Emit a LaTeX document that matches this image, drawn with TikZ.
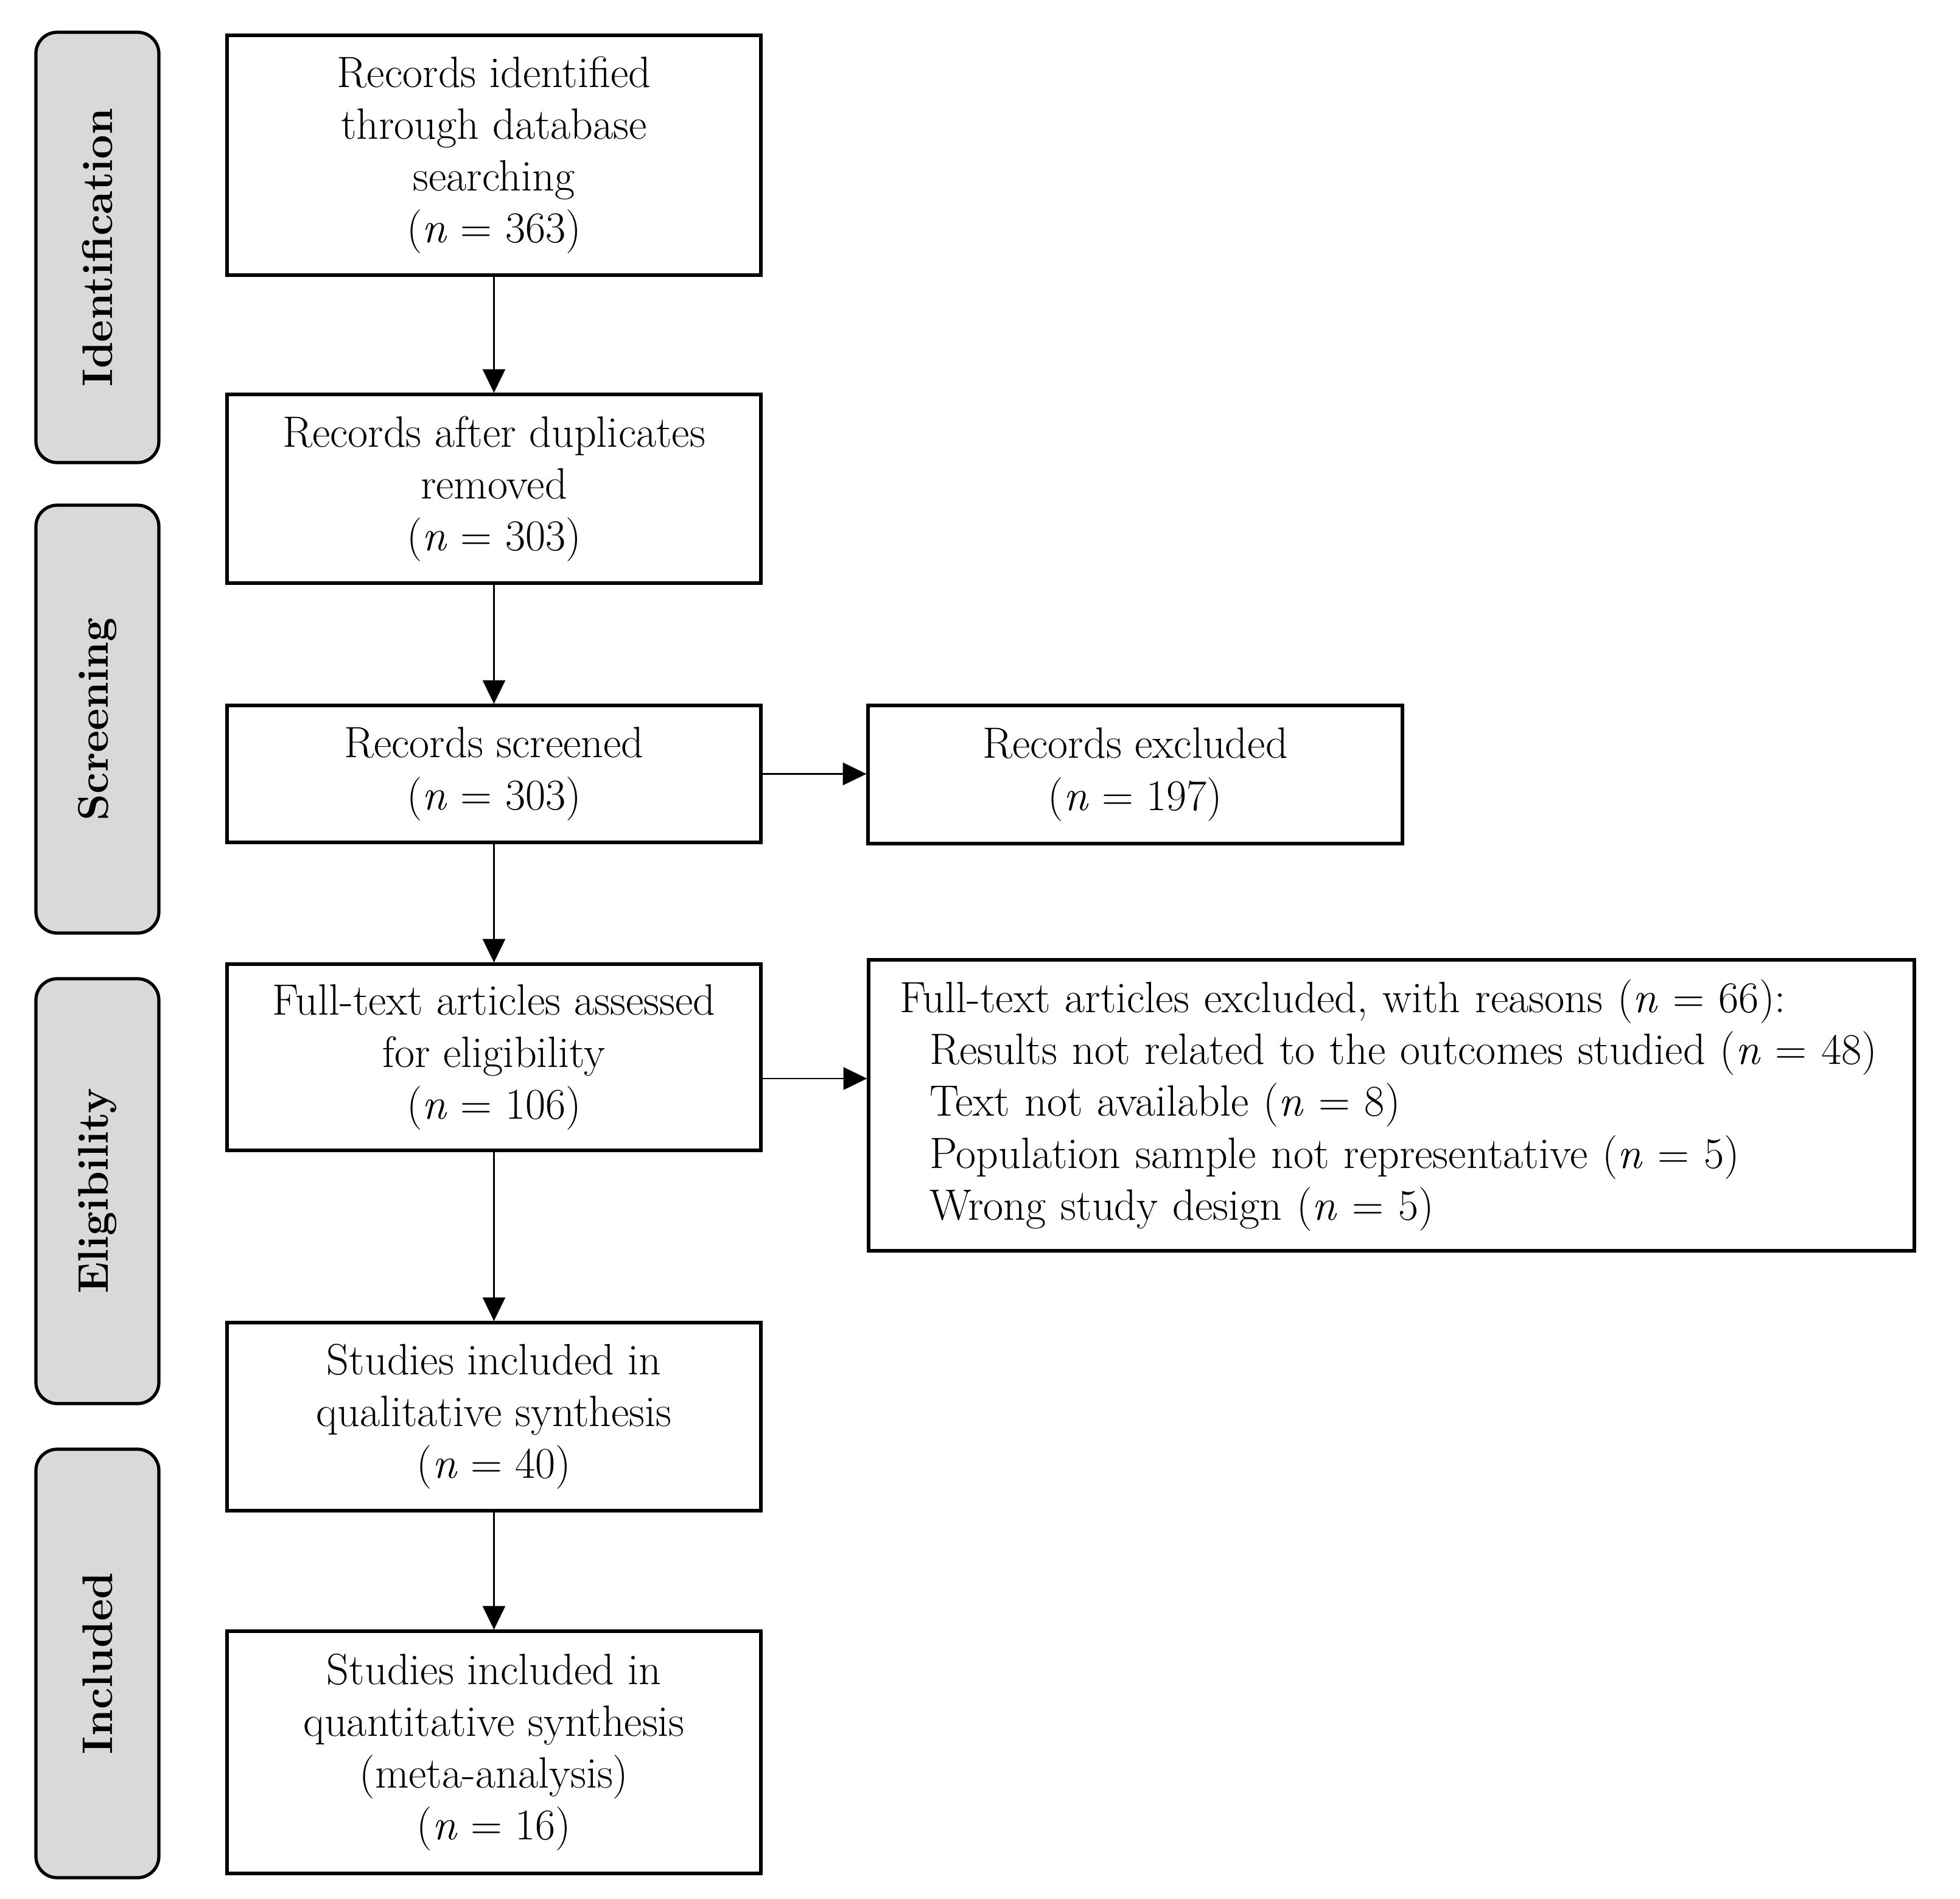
\documentclass[tikz,border=0pt]{standalone}
\usetikzlibrary{arrows.meta}
\definecolor{bargray}{HTML}{D9D9D9}
\begin{document}
\begin{tikzpicture}[
  box/.style={draw=black, line width=1.5pt, fill=white, align=center, inner sep=0pt,
    font=\fontsize{20.5}{24.2}\selectfont},
  bar/.style={draw=black, line width=1.5pt, fill=bargray, rounded corners=0.35cm,
    minimum width=2.02cm, inner sep=0pt},
  barlabel/.style={rotate=90, font=\fontsize{20}{24}\selectfont\bfseries},
  arr/.style={line width=0.8pt, -{Triangle[length=11pt,width=10.5pt]}}
]
\useasboundingbox (0,0) rectangle (32.2,-31.2);

% phase bars
\node[bar, minimum height=7.07cm] (bid) at (1.60,-4.065) {};
\node[barlabel] (lid) at (bid.center) {Identification};
\node[bar, minimum height=7.03cm] (bsc) at (1.60,-11.815) {};
\node[barlabel] (lsc) at (bsc.center) {Screening};
\node[bar, minimum height=6.98cm] (bel) at (1.60,-19.57) {};
\node[barlabel] (lel) at (bel.center) {Eligibility};
\node[bar, minimum height=7.04cm] (bin) at (1.60,-27.33) {};
\node[barlabel] (lin) at (bin.center) {Included};

% main column
\node[box, minimum width=8.77cm, minimum height=3.94cm] (b1) at (8.115,-2.55)
  {Records identified\\through database\\searching\\(\textit{n} = 363)};
\node[box, minimum width=8.77cm, minimum height=3.10cm] (b2) at (8.115,-8.03)
  {Records after duplicates\\removed\\(\textit{n} = 303)};
\node[box, minimum width=8.77cm, minimum height=2.25cm] (b3) at (8.115,-12.715)
  {Records screened\\(\textit{n} = 303)};
\node[box, minimum width=8.77cm, minimum height=3.06cm] (b4) at (8.115,-17.37)
  {Full-text articles assessed\\for eligibility\\(\textit{n} = 106)};
\node[box, minimum width=8.77cm, minimum height=3.09cm] (b5) at (8.115,-23.275)
  {Studies included in\\qualitative synthesis\\(\textit{n} = 40)};
\node[box, minimum width=8.77cm, minimum height=3.98cm] (b6) at (8.115,-28.79)
  {Studies included in\\quantitative synthesis\\(meta-analysis)\\(\textit{n} = 16)};

% right column
\node[box, minimum width=8.78cm, minimum height=2.27cm] (r1) at (18.65,-12.725)
  {Records excluded\\(\textit{n} = 197)};
\node[box, align=left, text width=16.16cm, inner xsep=0.51cm, minimum height=4.78cm] (r2) at (22.86,-18.16)
  {Full-text articles excluded, with reasons (\textit{n} = 66):\\
   \hspace*{0.49cm}Results not related to the outcomes studied (\textit{n} = 48)\\
   \hspace*{0.49cm}Text not available (\textit{n} = 8)\\
   \hspace*{0.49cm}Population sample not representative (\textit{n} = 5)\\
   \hspace*{0.49cm}Wrong study design (\textit{n} = 5)};

% connectors
\draw[arr] (b1.south) -- (b2.north);
\draw[arr] (b2.south) -- (b3.north);
\draw[arr] (b3.south) -- (b4.north);
\draw[arr] (b4.south) -- (b5.north);
\draw[arr] (b5.south) -- (b6.north);
\draw[arr] (b3.east) -- (b3.east -| r1.west);
\draw[arr] ([yshift=-0.35cm]b4.east) -- ([yshift=-0.35cm]b4.east -| r2.west);
\end{tikzpicture}
\end{document}
